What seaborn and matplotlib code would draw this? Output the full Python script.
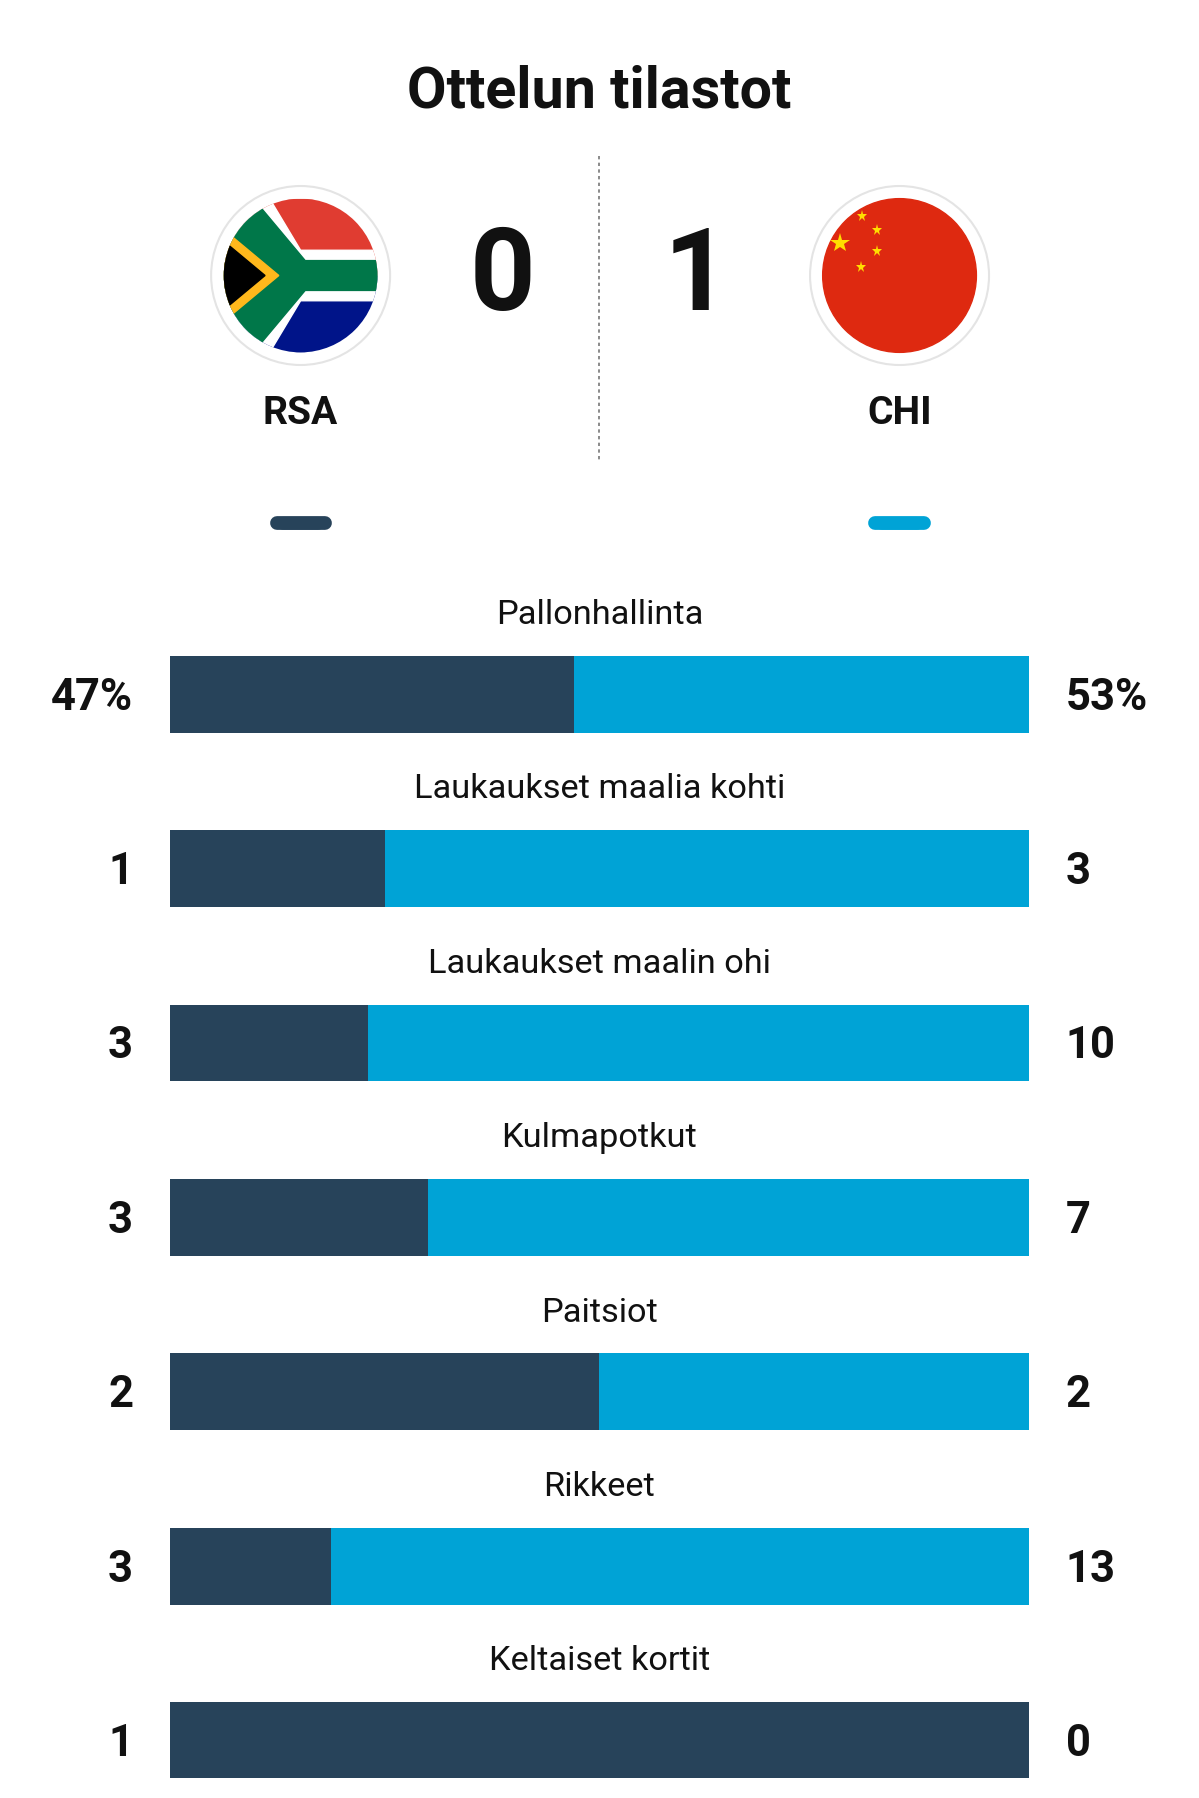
import matplotlib
matplotlib.use("Agg")
import matplotlib.pyplot as plt
import seaborn as sns
import pandas as pd
import numpy as np
from matplotlib.patches import Circle, Polygon, Rectangle, FancyBboxPatch

categories = ["Pallonhallinta", "Laukaukset maalia kohti", "Laukaukset maalin ohi",
              "Kulmapotkut", "Paitsiot", "Rikkeet", "Keltaiset kortit"]
home_vals = [47, 1, 3, 3, 2, 3, 1]
away_vals = [53, 3, 10, 7, 2, 13, 0]
home_team, away_team = "RSA", "CHI"
home_score, away_score = 0, 1
title = "Ottelun tilastot"

DARK = "#27435A"
BLUE = "#00A3D6"
FONT = "Roboto"

W, H = 1045, 1568
fig = plt.figure(figsize=(11.99, 17.99), dpi=100)
S = 1199 / W
def fs(px):  # displayed px font size -> points
    return px * S * 0.72

bg = fig.add_axes([0, 0, 1, 1])
bg.set_xlim(0, W); bg.set_ylim(H, 0); bg.axis("off")

bg.text(W/2, 80, title, ha="center", va="center", fontsize=fs(50), fontweight="bold", family=FONT, color="#111")
bg.plot([522, 522], [137, 403], ls=(0, (2, 2)), color="#777", lw=1.2)
bg.text(438, 243, str(home_score), ha="center", va="center", fontsize=fs(100), fontweight="bold", family=FONT, color="#111")
bg.text(607, 243, str(away_score), ha="center", va="center", fontsize=fs(100), fontweight="bold", family=FONT, color="#111")
bg.text(262, 360, home_team, ha="center", va="center", fontsize=fs(34), fontweight="bold", family=FONT, color="#111")
bg.text(784, 360, away_team, ha="center", va="center", fontsize=fs(34), fontweight="bold", family=FONT, color="#111")

# flags
for cx in (262, 784):
    bg.add_patch(Circle((cx, 241), 78, facecolor="white", edgecolor="#e4e4e4", lw=1.5))
cx, cy, r = 262, 241, 67
clip = Circle((cx, cy), r, transform=bg.transData)
def add(p):
    bg.add_patch(p); p.set_clip_path(clip)
add(Rectangle((cx-r, cy-r), 2*r, r, color="#E03C31"))
add(Rectangle((cx-r, cy), 2*r, r, color="#001489"))
add(Polygon([(cx-r, cy-r), (cx-r+40, cy-r), (cx, cy-22), (cx+r, cy-22), (cx+r, cy+22), (cx, cy+22), (cx-r+40, cy+r), (cx-r, cy+r)], color="white"))
add(Polygon([(cx-r, cy-r+5), (cx-r+30, cy-r+5), (cx+4, cy-13), (cx+r, cy-13), (cx+r, cy+13), (cx+4, cy+13), (cx-r+30, cy+r-5), (cx-r, cy+r-5)], color="#007749"))
add(Polygon([(cx-r, cy-40), (cx-r+48, cy), (cx-r, cy+40)], color="#FFB81C"))
add(Polygon([(cx-r, cy-30), (cx-r+36, cy), (cx-r, cy+30)], color="black"))
bg.add_patch(Circle((784, 241), 67, color="#DE2910"))
for (sx, sy, ss) in [(732, 213, 16), (751, 189, 9), (764, 201, 9), (764, 220, 9), (750, 234, 9)]:
    bg.plot(sx, sy, marker="*", color="#FFDE00", markersize=ss*0.9, markeredgewidth=0)

for cx, col in ((262, DARK), (784, BLUE)):
    bg.add_patch(FancyBboxPatch((cx-20, 452), 40, 10, boxstyle="round,pad=0,rounding_size=5", color=col))
    bg.plot([cx-21, cx+21], [457, 457], color=col, lw=12*S*0.72, solid_capstyle="round")

# bars
x0, x1, yt, yb = 148, 897, 573, 1551
ax = fig.add_axes([x0/W, 1-yb/H, (x1-x0)/W, (yb-yt)/H])
tot = [h + a for h, a in zip(home_vals, away_vals)]
share = [h / t * 100 if t else 50 for h, t in zip(home_vals, tot)]
df = pd.DataFrame({"cat": categories, "full": [100]*len(categories), "share": share})
sns.barplot(data=df, x="full", y="cat", orient="h", color=BLUE, width=0.44, ax=ax, saturation=1)
sns.barplot(data=df, x="share", y="cat", orient="h", color=DARK, width=0.44, ax=ax, saturation=1)
ax.set_xlim(0, 100); ax.set_ylim(6.217, -0.217); ax.axis("off")

for i, (c, h, a) in enumerate(zip(categories, home_vals, away_vals)):
    yc = 606 + 152 * i
    suf = "%" if i == 0 else ""
    bg.text(W/2, yc - 70, c, ha="center", va="center", fontsize=fs(30), family=FONT, color="#111")
    bg.text(116, yc + 2, f"{h}{suf}", ha="right", va="center", fontsize=fs(38), fontweight="bold", family=FONT, color="#111")
    bg.text(929, yc + 2, f"{a}{suf}", ha="left", va="center", fontsize=fs(38), fontweight="bold", family=FONT, color="#111")

fig.savefig("out.png", dpi=100, facecolor="white")
